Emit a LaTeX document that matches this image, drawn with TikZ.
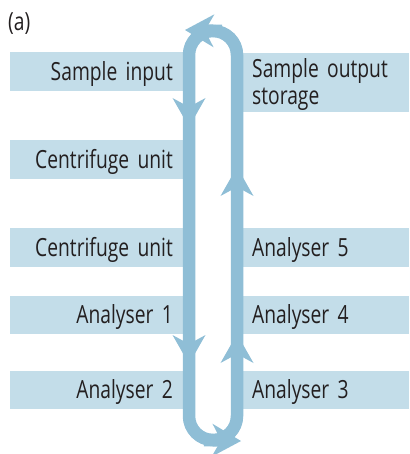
\documentclass[tikz,border=0pt]{standalone}
\usepackage{fontspec}
\setmainfont{Open Sans}[FakeStretch=0.77]
\usepackage{tikz}
\usetikzlibrary{arrows.meta}
\definecolor{barblue}{RGB}{195,221,233}
\definecolor{loopblue}{RGB}{143,190,214}
\definecolor{labelgray}{RGB}{35,31,32}

\begin{document}
\begin{tikzpicture}[x=1pt,y=-1pt]
				\tikzstyle{label}=[font=\fontsize{25}{27}\selectfont, text=labelgray]
				\tikzstyle{leftbar}=[label, fill=barblue, anchor=east, minimum height=39pt, inner ysep=0pt, inner xsep=10pt, text width=153pt, align=right, text height=17.9pt, text depth=0pt]
				\tikzstyle{rightbar}=[label, fill=barblue, anchor=west, minimum height=39pt, inner ysep=0pt, inner xsep=9pt, text width=148pt, align=left, text height=17.9pt, text depth=0pt]
				\tikzstyle{flow}=[draw=loopblue, line width=12.5pt]
				\tikzstyle{flowtip}=[-{Stealth[length=29pt, width=33pt, inset=9pt, line width=0pt]}, fill=loopblue]

				\useasboundingbox (0,0) rectangle (409,454);

				\node [label, anchor=west, inner sep=0pt] (part) at (8,24) {(a)};

				% left column
				\node [leftbar] (input) at (183,72) {Sample input};
				\node [leftbar] (centrifuge1) at (183,159.5) {Centrifuge unit};
				\node [leftbar] (centrifuge2) at (183,247.5) {Centrifuge unit};
				\node [leftbar, minimum height=38pt] (analyser1) at (183,315) {Analyser 1};
				\node [leftbar, minimum height=38pt] (analyser2) at (183,390) {Analyser 2};

				% right column
				\node [rightbar, minimum height=59pt, text depth=27pt] (output) at (243,82.5) {Sample output\\storage};
				\node [rightbar] (analyser5) at (243,247.5) {Analyser 5};
				\node [rightbar, minimum height=38pt] (analyser4) at (243,315) {Analyser 4};
				\node [rightbar, minimum height=38pt] (analyser3) at (243,390) {Analyser 3};

				% sample loop
				\coordinate (rb) at (237,416);
				\coordinate (rt) at (237,55);
				\coordinate (lt) at (189,55);
				\coordinate (lb) at (189,416);

				\draw [flow] (rb) -- (rt) arc[start angle=0, end angle=-180, radius=24]
				-- (lb) arc[start angle=180, end angle=0, radius=24] -- cycle;

				\coordinate (down1) at (189,127);
				\coordinate (down2) at (189,364);
				\coordinate (up1) at (237,167);
				\coordinate (up2) at (237,334);
				\coordinate (top) at (185,30);
				\coordinate (bottom) at (241,441);

				\draw [flow, flowtip] (down1) ++(0,-30) -- (down1);
				\draw [flow, flowtip] (down2) ++(0,-28) -- (down2);
				\draw [flow, flowtip] (up1) ++(0,28) -- (up1);
				\draw [flow, flowtip] (up2) ++(0,28) -- (up2);
				\draw [flow, flowtip] (top) ++(37,1) -- (top);
				\draw [flow, flowtip] (bottom) ++(-37,-1) -- (bottom);

			\end{tikzpicture}
\end{document}
